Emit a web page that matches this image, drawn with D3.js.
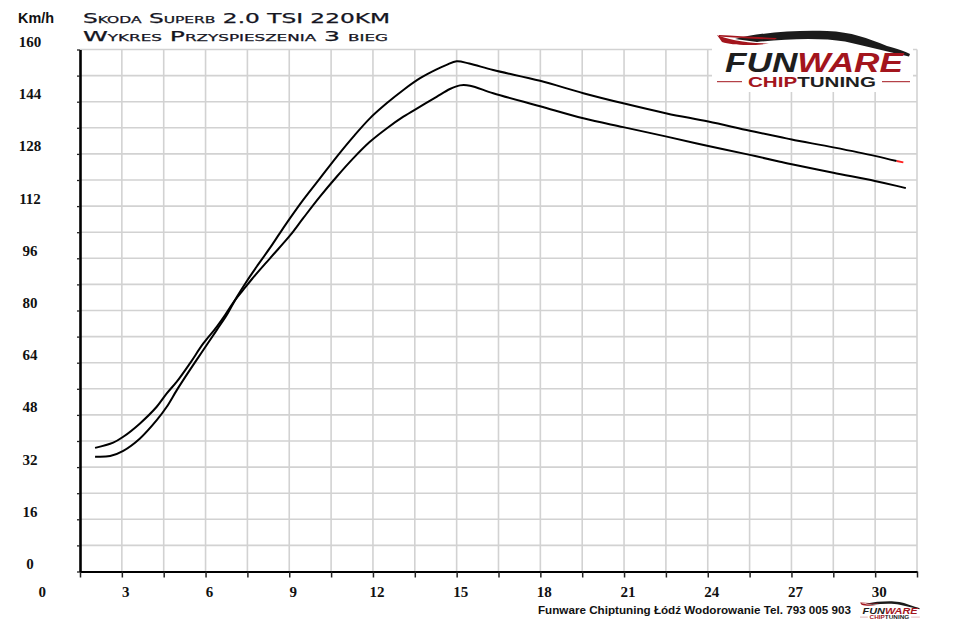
<!DOCTYPE html>
<html>
<head>
<meta charset="utf-8">
<script src="https://cdn.jsdelivr.net/npm/d3@7"></script>
<style>
  html, body { margin: 0; padding: 0; background: #fff; }
  svg { display: block; }
</style>
</head>
<body>
<svg id="chart" width="960" height="626"></svg>
<script>
// ---- data ----
const titleLines = ["Skoda Superb 2.0 TSI 220KM", "Wykres Przyspieszenia 3 bieg"];
const yUnit = "Km/h";
const footerText = "Funware Chiptuning Łódź Wodorowanie Tel. 793 005 903";

const xTickLabels = [0, 3, 6, 9, 12, 15, 18, 21, 24, 27, 30];
const yTickLabels = [0, 16, 32, 48, 64, 80, 96, 112, 128, 144, 160];
const xGridStep = 1.5;
const yGridStep = 8;
const xDomain = [1.5, 31.5];
const yDomain = [0, 160];

// series A: starts lower, peaks higher (ends with red tip)
const seriesA_t = [2.04, 2.58, 3.05, 3.65, 4.25, 4.61, 4.97, 5.44, 5.92, 6.40, 6.76, 7.12, 7.47, 7.83, 8.31, 8.67, 9.03, 9.50, 10.10, 10.70, 11.30, 11.89, 12.49, 13.09, 13.69, 14.28, 14.64, 15.00, 15.45, 16.31, 17.99, 19.54, 20.97, 22.53, 24.02, 25.51, 26.59, 27.01, 28.50, 29.99, 30.77, 31.01];
const seriesA_v = [35.2, 35.4, 37.0, 40.8, 46.4, 50.5, 55.6, 61.8, 67.9, 74.0, 78.6, 84.1, 88.9, 93.4, 99.2, 103.8, 108.3, 113.9, 120.5, 127.1, 133.3, 138.9, 143.5, 147.6, 151.2, 153.9, 155.3, 156.4, 155.7, 153.7, 150.4, 146.6, 143.5, 140.4, 137.9, 135.1, 133.2, 132.4, 130.0, 127.4, 125.8, 125.4];

// series B: starts higher, peaks lower
const seriesB_t = [2.04, 2.69, 3.05, 3.65, 4.25, 4.61, 4.97, 5.44, 5.92, 6.40, 6.70, 7.00, 7.35, 7.65, 8.31, 9.03, 9.50, 10.10, 10.70, 11.30, 11.89, 12.49, 13.09, 13.69, 14.28, 14.76, 15.12, 15.48, 16.31, 17.99, 19.54, 20.97, 22.53, 24.02, 25.51, 26.59, 27.01, 28.50, 29.99, 30.77, 31.10];
const seriesB_v = [37.9, 39.5, 41.3, 45.4, 50.5, 54.6, 58.2, 63.8, 69.9, 75.0, 78.6, 82.5, 86.3, 89.5, 96.0, 103.0, 108.3, 114.9, 121.0, 126.7, 131.7, 135.8, 139.4, 142.5, 145.5, 147.9, 149.0, 148.9, 146.6, 142.6, 138.9, 136.2, 133.3, 130.4, 127.7, 125.6, 124.8, 122.2, 119.7, 118.2, 117.5];

// ---- layout ----
const svg = d3.select("#chart");
const x = d3.scaleLinear().domain(xDomain).range([80, 917]);
const y = d3.scaleLinear().domain(yDomain).range([571.5, 49.5]);

const xGrid = d3.range(xDomain[0], xDomain[1] + 0.001, xGridStep);
const yGrid = d3.range(yDomain[0], yDomain[1] + 0.001, yGridStep);

// grid
const g = svg.append("g");
g.selectAll("line.vg").data(xGrid.slice(1)).join("line")
  .attr("x1", d => x(d)).attr("x2", d => x(d))
  .attr("y1", y(yDomain[1])).attr("y2", y(0))
  .attr("stroke", "#d2d2d2").attr("stroke-width", 1.6);
g.selectAll("line.hg").data(yGrid.slice(1)).join("line")
  .attr("x1", x(xDomain[0])).attr("x2", x(xDomain[1]))
  .attr("y1", d => y(d)).attr("y2", d => y(d))
  .attr("stroke", "#d2d2d2").attr("stroke-width", 1.6);

// axes
const xAxis = d3.axisBottom(x).tickValues(xGrid).tickSize(6).tickFormat("").tickSizeOuter(0);
const xa = svg.append("g").attr("transform", `translate(0,${y(0)})`).call(xAxis);
xa.select(".domain").attr("stroke", "#000").attr("stroke-width", 2.2);
xa.selectAll(".tick line").attr("stroke", "#222").attr("stroke-width", 1.5);

const yAxis = d3.axisLeft(y).tickValues(yGrid).tickSize(3).tickFormat("").tickSizeOuter(0);
const ya = svg.append("g").attr("transform", `translate(${x(xDomain[0])},0)`).call(yAxis);
ya.select(".domain").attr("stroke", "#000").attr("stroke-width", 2.6);
ya.selectAll(".tick line").attr("stroke", "#222").attr("stroke-width", 1.3);

// tick labels
svg.selectAll("text.xl").data(xTickLabels).join("text")
  .attr("x", d => x(d) + 4).attr("y", 597)
  .attr("text-anchor", "middle")
  .attr("font-family", "'Liberation Serif', 'Times New Roman', serif")
  .attr("font-weight", "bold").attr("font-size", 15).attr("fill", "#111")
  .text(d => d);
svg.selectAll("text.yl").data(yTickLabels).join("text")
  .attr("x", 30).attr("y", d => y(d) - 2.5)
  .attr("text-anchor", "middle")
  .attr("font-family", "'Liberation Serif', 'Times New Roman', serif")
  .attr("font-weight", "bold").attr("font-size", 15).attr("fill", "#111")
  .text(d => d);

// unit
svg.append("text").attr("x", 18).attr("y", 22.5)
  .attr("font-family", "'Liberation Sans', Arial, sans-serif")
  .attr("font-weight", "bold").attr("font-size", 14).attr("fill", "#111")
  .attr("textLength", 36).attr("lengthAdjust", "spacingAndGlyphs")
  .text(yUnit);

// titles
const titleY = [22.5, 40.5];
svg.selectAll("text.title").data(titleLines).join("text")
  .attr("x", 83).attr("y", (d, i) => titleY[i])
  .attr("font-family", "'DejaVu Sans', sans-serif")
  .attr("font-size", 13.5).attr("fill", "#15151f")
  .attr("stroke", "#15151f").attr("stroke-width", 0.25)
  .style("font-variant", "small-caps")
  .attr("textLength", (d, i) => i === 0 ? 307 : 305).attr("lengthAdjust", "spacingAndGlyphs")
  .text(d => d);

// lines
const line = d3.line().x(d => x(d[0])).y(d => y(d[1])).curve(d3.curveCatmullRom.alpha(0.5));
const ptsA = seriesA_t.map((t, i) => [t, seriesA_v[i]]);
const ptsB = seriesB_t.map((t, i) => [t, seriesB_v[i]]);
svg.append("path").attr("d", line(ptsB)).attr("fill", "none")
  .attr("stroke", "#000").attr("stroke-width", 2).attr("stroke-linejoin", "round");
svg.append("path").attr("d", line(ptsA.slice(0, -1))).attr("fill", "none")
  .attr("stroke", "#000").attr("stroke-width", 2).attr("stroke-linejoin", "round");
svg.append("path").attr("d", d3.line().x(d => x(d[0])).y(d => y(d[1]))(ptsA.slice(-2))).attr("fill", "none")
  .attr("stroke", "#ff2020").attr("stroke-width", 2);

// ---- logo ----
function logo(gp, s) {
  const lg = gp.append("g").attr("transform", `scale(${s})`);
  lg.append("path")
    .attr("d", "M18,6 C45,-1 80,-3 110,-2 C135,-1 150,5 170,13 C180,16 188,18 193,21 L192,23.5 C170,18.5 150,13.5 128,8.5 C105,4.5 70,5.5 40,9 Z")
    .attr("fill", "#1b1b1b");
  lg.append("path")
    .attr("d", "M0,2 C10,6 25,10 52,10.5 C35,13 15,12.5 5,9 Z")
    .attr("fill", "#a3151d");
  lg.append("path")
    .attr("d", "M2,2 C20,3 40,4 60,5 L58,6.5 C40,6 20,5 2,3.5 Z")
    .attr("fill", "#a3151d");
  const t = lg.append("text").attr("x", 8).attr("y", 38.7)
    .attr("font-family", "'Liberation Sans', Arial, sans-serif")
    .attr("font-weight", "bold").attr("font-style", "italic").attr("font-size", 27)
    .attr("textLength", 178).attr("lengthAdjust", "spacingAndGlyphs");
  t.append("tspan").attr("fill", "#1e1e1e").text("FUN");
  t.append("tspan").attr("fill", "#a3151d").text("WARE");
  const c = lg.append("text").attr("x", 31).attr("y", 54)
    .attr("font-family", "'Liberation Sans', Arial, sans-serif")
    .attr("font-weight", "bold").attr("font-size", 15)
    .attr("textLength", 128).attr("lengthAdjust", "spacingAndGlyphs");
  c.append("tspan").attr("fill", "#a3151d").text("CHIP");
  c.append("tspan").attr("fill", "#1e1e1e").text("TUNING");
  lg.append("line").attr("x1", 0).attr("x2", 25).attr("y1", 48.7).attr("y2", 48.7)
    .attr("stroke", "#a3151d").attr("stroke-width", 1);
  lg.append("line").attr("x1", 165).attr("x2", 193).attr("y1", 48.7).attr("y2", 48.7)
    .attr("stroke", "#a3151d").attr("stroke-width", 1);
}
svg.append("rect").attr("x", 712).attr("y", 28).attr("width", 201).attr("height", 64).attr("fill", "#fff");
logo(svg.append("g").attr("transform", "translate(717,33)"), 1);

// footer
svg.append("text").attr("x", 538).attr("y", 614)
  .attr("font-family", "'Liberation Sans', Arial, sans-serif")
  .attr("font-weight", "bold").attr("font-size", 11).attr("fill", "#111")
  .attr("textLength", 313).attr("lengthAdjust", "spacingAndGlyphs")
  .text(footerText);
logo(svg.append("g").attr("transform", "translate(860,602)"), 0.31);
</script>
</body>
</html>
